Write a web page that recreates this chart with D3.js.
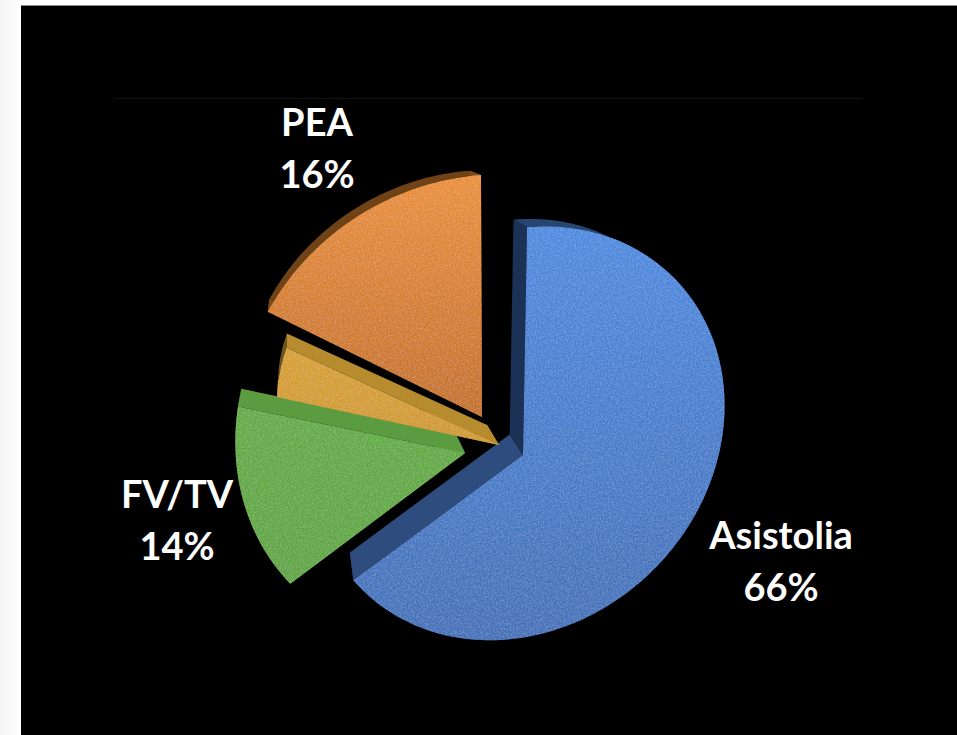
<!DOCTYPE html>
<html>
<head>
<meta charset="utf-8">
<script src="https://cdn.jsdelivr.net/npm/d3@7"></script>
<style>
html,body{margin:0;padding:0;background:#fff;overflow:hidden}
svg{display:block}
text{font-family:Lato,"Open Sans",sans-serif;font-weight:700;fill:#fff}
</style>
</head>
<body>
<svg id="chart" width="957" height="735"></svg>
<script>
// Share of initial rhythms
const categories = ["Asistolia", "FV/TV", "Otros", "PEA"];
const shares = [66, 14, 4, 16];
const shownLabels = ["Asistolia", "FV/TV", null, "PEA"];
const shownPercents = ["66%", "14%", null, "16%"];

// Per-slice styling
const faceTop = ["#4a8ae0", "#62ac42", "#d8a02c", "#ea8f34"];
const faceBottom = ["#3f70b8", "#5ea53f", "#d09828", "#c46f22"];
const startWall = ["#1b3156", "#5a9c3f", "#b68c2e", "#7a4a18"];
const endWall = ["#2e4d7e", "#5a9c3f", "#b68c2e", "#7a4a18"];
const outerWall = ["#27466f", "#4a7f34", "#6a561e", "#6f4315"];

// Per-slice placement of the exploded wedges
const apexX = [523, 465, 499, 482];
const apexY = [455, 453, 445, 417];
const reachX = [1, 1.07, 1.007, 1.14];
const reachY = [0.987, 1.07, 0.924, 1.066];
const tilt = [-0.015, -0.09, 0, 0];
const leanX = [0, 0, -44.6, -5];
const leanY = [0, 0, 9.1, 3];

// Plane-to-screen projection of the tilted disc
const proj = {a: 205.6, b: 3.6, c: -25, d: -205.7, g: 0.028, h: -0.094};
const vanish = {x: 293, y: 100, k: 0.058};

const width = 957, height = 735;
const svg = d3.select("#chart");
const defs = svg.append("defs");

const project = (i, theta) => {
  const u = Math.sin(theta), v = Math.cos(theta);
  const w = 1 + proj.g * u + (proj.h + tilt[i]) * v;
  return [
    apexX[i] + (reachX[i] * (proj.a * u + proj.b * v) + leanX[i] * v) / w,
    apexY[i] + (reachY[i] * (proj.c * u + proj.d * v) + leanY[i] * u) / w
  ];
};
const extrude = p => [p[0] + vanish.k * (vanish.x - p[0]), p[1] + vanish.k * (vanish.y - p[1])];
const path = d3.line().curve(d3.curveLinear);

// Page, black panel and the hairline above the pie
const edge = defs.append("linearGradient").attr("id", "edge");
edge.append("stop").attr("offset", 0).attr("stop-color", "#f4f4f4");
edge.append("stop").attr("offset", 1).attr("stop-color", "#ffffff");
svg.append("rect").attr("width", 21).attr("height", height).attr("fill", "url(#edge)");
svg.append("rect").attr("x", 21).attr("y", 5).attr("width", width - 21).attr("height", 1).attr("fill", "#8a8a8a");
svg.append("rect").attr("x", 21).attr("y", 6).attr("width", width - 21).attr("height", height - 6).attr("fill", "#000");
svg.append("line").attr("x1", 115).attr("x2", 862).attr("y1", 98.5).attr("y2", 98.5).attr("stroke", "#141414");

// Fine speckle laid over the wedge faces
const grain = defs.append("filter").attr("id", "grain")
  .attr("x", 0).attr("y", 0).attr("width", 1).attr("height", 1);
grain.append("feTurbulence").attr("type", "fractalNoise").attr("baseFrequency", 0.6)
  .attr("numOctaves", 2).attr("seed", 4).attr("result", "n");
grain.append("feColorMatrix").attr("in", "n").attr("type", "matrix")
  .attr("values", "0 0 0 0 1  0 0 0 0 1  0 0 0 0 1  0.3 0 0 0 -0.11").attr("result", "s");
grain.append("feComposite").attr("in", "s").attr("in2", "SourceAlpha").attr("operator", "in").attr("result", "g");
grain.append("feMerge").selectAll("feMergeNode").data(["SourceGraphic", "g"]).join("feMergeNode").attr("in", d => d);

const pie = d3.pie().sort(null).value(d => d);
const arcs = pie(shares);

// Back-to-front so the thin wedge tip sits above the blue wall
const order = [0, 1, 2, 3];
order.forEach(i => {
  const arc = arcs[i];
  const steps = Math.max(8, Math.round((arc.endAngle - arc.startAngle) * 40));
  const thetas = d3.range(steps + 1).map(s => arc.startAngle + (arc.endAngle - arc.startAngle) * s / steps);
  const rim = thetas.map(t => project(i, t));
  const apex = [apexX[i], apexY[i]];
  const g = svg.append("g").attr("class", "slice").attr("data-category", categories[i]);

  const rimBack = rim.map(extrude);
  g.append("path").attr("d", path(rim.concat(rimBack.slice().reverse())) + "Z").attr("fill", outerWall[i]);
  g.append("path").attr("d", path([apex, rim[steps], rimBack[steps], extrude(apex)]) + "Z").attr("fill", endWall[i]);
  g.append("path").attr("d", path([apex, rim[0], rimBack[0], extrude(apex)]) + "Z").attr("fill", startWall[i]);

  const grad = defs.append("linearGradient").attr("id", "face" + i).attr("x1", 0).attr("x2", 0).attr("y1", 0).attr("y2", 1);
  grad.append("stop").attr("offset", 0).attr("stop-color", faceTop[i]);
  grad.append("stop").attr("offset", 1).attr("stop-color", faceBottom[i]);
  g.append("path").attr("d", path([apex].concat(rim)) + "Z")
    .attr("fill", `url(#face${i})`).attr("filter", "url(#grain)");
});

// Category and percentage labels
const labelX = [781, 177, null, 317];
const labelY = [549, 508, null, 136];
const lineGap = 51;
shownLabels.forEach((name, i) => {
  if (!name) return;
  svg.append("text").attr("x", labelX[i]).attr("y", labelY[i]).attr("text-anchor", "middle")
    .attr("font-size", 38).text(name);
  svg.append("text").attr("x", labelX[i]).attr("y", labelY[i] + lineGap + 1).attr("text-anchor", "middle")
    .attr("font-size", 38).text(shownPercents[i]);
});
</script>
</body>
</html>
